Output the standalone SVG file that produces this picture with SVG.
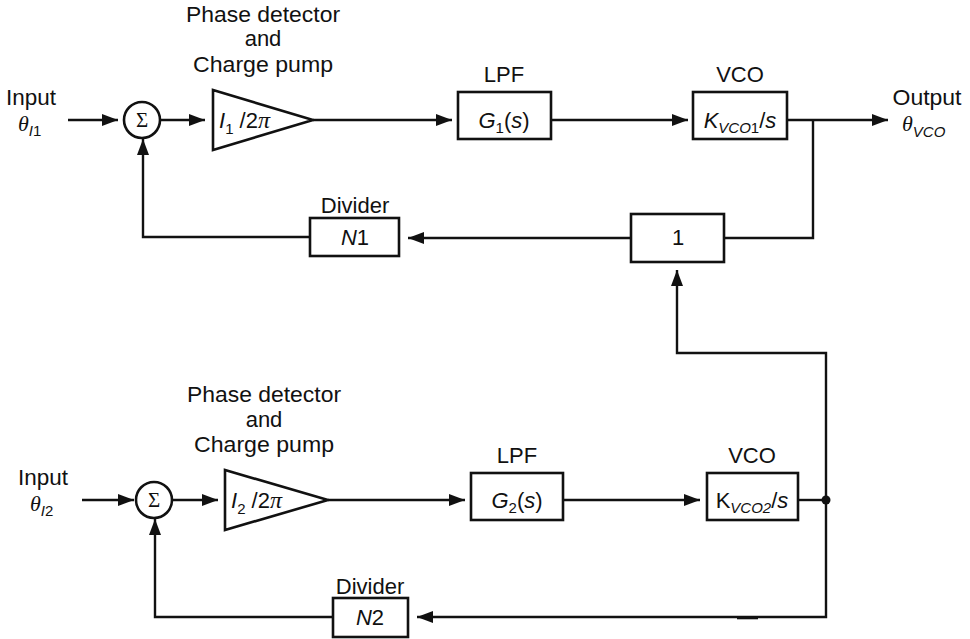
<svg xmlns="http://www.w3.org/2000/svg" width="970" height="639" viewBox="0 0 970 639">
<style>
.ln{fill:none;stroke:#111;stroke-width:2.4}
.bx{fill:#fff;stroke:#111;stroke-width:2.6}
.t{font-family:"Liberation Sans",Arial,sans-serif;font-size:22px;fill:#111}
.c{text-anchor:middle}
.i{font-style:italic}
.sub{font-size:15px}
.g{font-family:"Liberation Serif","Times New Roman",serif;font-style:italic}
.sig{font-family:"Liberation Serif","Times New Roman",serif;font-size:21px;fill:#111;text-anchor:middle}
</style>
<defs>
<marker id="ah" markerUnits="userSpaceOnUse" markerWidth="17" markerHeight="13" refX="16" refY="6" orient="auto">
<path d="M0,0 L16,6 L0,12 z" fill="#111"/>
</marker>
</defs>
<rect width="970" height="639" fill="#fff"/>

<g id="connectors">
<path class="ln" d="M68,120 H118" marker-end="url(#ah)"/>
<path class="ln" d="M160,120 H205" marker-end="url(#ah)"/>
<path class="ln" d="M313,120 H452" marker-end="url(#ah)"/>
<path class="ln" d="M551,120 H688" marker-end="url(#ah)"/>
<path class="ln" d="M787,120 H888" marker-end="url(#ah)"/>
<path class="ln" d="M813,120 V238 H724"/>
<path class="ln" d="M631,238 H408" marker-end="url(#ah)"/>
<path class="ln" d="M310,237 H143 V139" marker-end="url(#ah)"/>
<path class="ln" d="M82,500 H134" marker-end="url(#ah)"/>
<path class="ln" d="M172,500 H218" marker-end="url(#ah)"/>
<path class="ln" d="M328,500 H465" marker-end="url(#ah)"/>
<path class="ln" d="M563,500 H700" marker-end="url(#ah)"/>
<path class="ln" d="M798,500 H826"/>
<path class="ln" d="M826,500 V617 H417" marker-end="url(#ah)"/>
<path class="ln" d="M826,500 V353 H677 V270" marker-end="url(#ah)"/>
<path class="ln" d="M333,617 H155 V519" marker-end="url(#ah)"/>
<path d="M737,618 H758" stroke="#111" stroke-width="2.6"/>
<circle cx="826" cy="500" r="4.5" fill="#111"/>
</g>

<g id="input1">
<text class="t c" x="31" y="105" textLength="50" lengthAdjust="spacingAndGlyphs">Input</text>
<text class="t" x="18" y="131"><tspan class="g">θ</tspan><tspan class="sub i" dy="5">I</tspan><tspan class="sub">1</tspan></text>
</g>
<g id="sum1">
<circle class="bx" cx="142" cy="120" r="18"/>
<text class="sig" x="142" y="127">Σ</text>
</g>
<g id="pd1">
<text class="t c" x="263" y="22" textLength="154" lengthAdjust="spacingAndGlyphs">Phase detector</text>
<text class="t c" x="263" y="46">and</text>
<text class="t c" x="263" y="72" textLength="140" lengthAdjust="spacingAndGlyphs">Charge pump</text>
<polygon class="bx" points="213,90 213,150 313,120"/>
<text class="t" x="219" y="128"><tspan class="i">I</tspan><tspan class="sub" dy="6">1</tspan><tspan dy="-6"> /2</tspan><tspan class="g" font-size="24">π</tspan></text>
</g>
<g id="lpf1">
<text class="t c" x="504" y="82">LPF</text>
<rect class="bx" x="458" y="92" width="93" height="47"/>
<text class="t c" x="504" y="128"><tspan class="i">G</tspan><tspan class="sub" dy="5">1</tspan><tspan dy="-5">(</tspan><tspan class="i">s</tspan>)</text>
</g>
<g id="vco1">
<text class="t c" x="740" y="82">VCO</text>
<rect class="bx" x="693" y="92" width="94" height="47"/>
<text class="t c" x="740" y="128"><tspan class="i">K</tspan><tspan class="sub i" dy="5">VCO</tspan><tspan class="sub">1</tspan><tspan dy="-5">/</tspan><tspan class="i">s</tspan></text>
</g>
<g id="output">
<text class="t c" x="927" y="105" textLength="69" lengthAdjust="spacingAndGlyphs">Output</text>
<text class="t" x="902" y="131"><tspan class="g">θ</tspan><tspan class="sub i" dy="6">VCO</tspan></text>
</g>
<g id="unity">
<rect class="bx" x="631" y="214" width="93" height="48"/>
<text class="t c" x="678" y="245">1</text>
</g>
<g id="div1">
<text class="t c" x="355" y="213">Divider</text>
<rect class="bx" x="310" y="218" width="89" height="38"/>
<text class="t c" x="355" y="245"><tspan class="i">N</tspan>1</text>
</g>

<g id="input2">
<text class="t c" x="43" y="485" textLength="50" lengthAdjust="spacingAndGlyphs">Input</text>
<text class="t" x="30" y="511"><tspan class="g">θ</tspan><tspan class="sub i" dy="5">I</tspan><tspan class="sub">2</tspan></text>
</g>
<g id="sum2">
<circle class="bx" cx="154" cy="500" r="18"/>
<text class="sig" x="154" y="507">Σ</text>
</g>
<g id="pd2">
<text class="t c" x="264" y="402" textLength="154" lengthAdjust="spacingAndGlyphs">Phase detector</text>
<text class="t c" x="264" y="427">and</text>
<text class="t c" x="264" y="452" textLength="140" lengthAdjust="spacingAndGlyphs">Charge pump</text>
<polygon class="bx" points="225,470 225,530 328,500"/>
<text class="t" x="231" y="508"><tspan class="i">I</tspan><tspan class="sub" dy="6">2</tspan><tspan dy="-6"> /2</tspan><tspan class="g" font-size="24">π</tspan></text>
</g>
<g id="lpf2">
<text class="t c" x="517" y="463">LPF</text>
<rect class="bx" x="471" y="473" width="92" height="47"/>
<text class="t c" x="517" y="508"><tspan class="i">G</tspan><tspan class="sub" dy="5">2</tspan><tspan dy="-5">(</tspan><tspan class="i">s</tspan>)</text>
</g>
<g id="vco2">
<text class="t c" x="752" y="463">VCO</text>
<rect class="bx" x="707" y="473" width="91" height="47"/>
<text class="t c" x="752" y="508">K<tspan class="sub i" dy="5">VCO2</tspan><tspan dy="-5">/</tspan><tspan class="i">s</tspan></text>
</g>
<g id="div2">
<text class="t c" x="370" y="594">Divider</text>
<rect class="bx" x="333" y="598" width="75" height="39"/>
<text class="t c" x="370" y="625"><tspan class="i">N</tspan>2</text>
</g>
</svg>
